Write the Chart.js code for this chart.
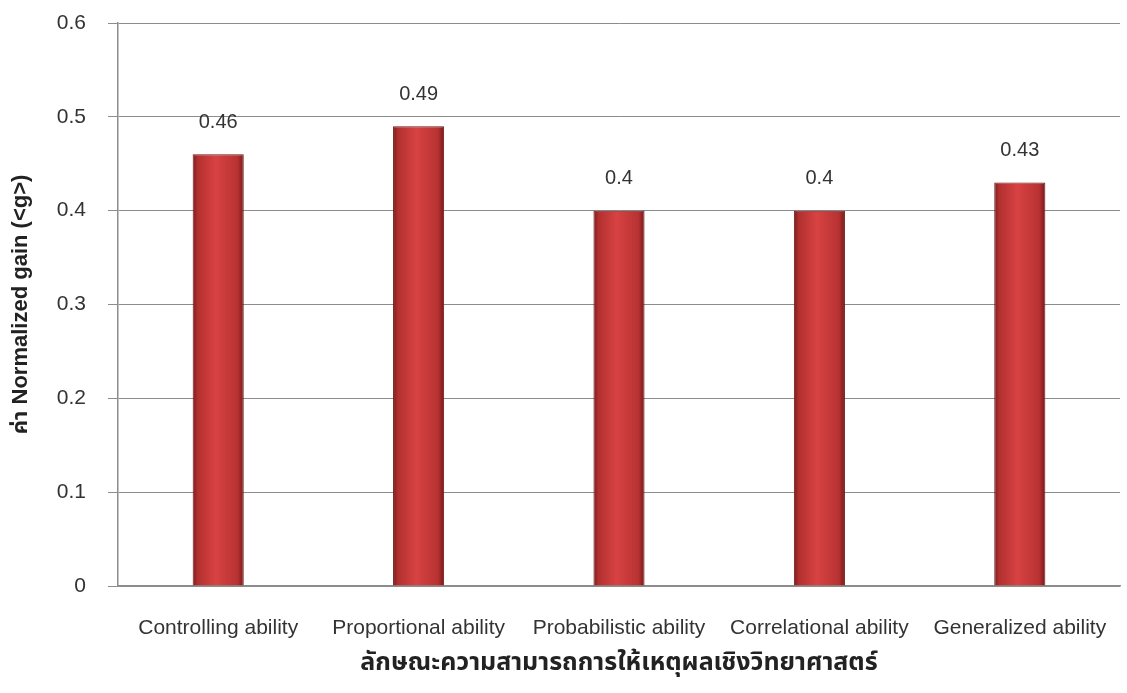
<!DOCTYPE html>
<html>
<head>
<meta charset="utf-8">
<script src="https://cdn.jsdelivr.net/npm/chart.js@4.4.1/dist/chart.umd.min.js"></script>
<style>
  html, body { margin: 0; padding: 0; background: #fff; }
  #wrap { width: 1127px; height: 693px; position: relative; }
</style>
</head>
<body>
<div id="wrap"><canvas id="chart"></canvas></div>
<script>
const categories = ['Controlling ability', 'Proportional ability', 'Probabilistic ability', 'Correlational ability', 'Generalized ability']
const gains = [0.46, 0.49, 0.4, 0.4, 0.43]
const valueLabels = ['0.46', '0.49', '0.4', '0.4', '0.43']
const yTicks = [0, 0.1, 0.2, 0.3, 0.4, 0.5, 0.6]

const BAR_PCT = 0.255

Chart.defaults.font.family = '"Liberation Sans", Arial, sans-serif'
Chart.defaults.color = '#3a3a3a'

// shaded bar: dark edges, lighter middle
function barFill(ctx) {
  const chart = ctx.chart
  const x = chart.scales.x
  if (!x || ctx.dataIndex === undefined) return '#c83535'
  const cx = x.getPixelForValue(ctx.dataIndex)
  const w = (x.width / categories.length) * BAR_PCT
  if (!isFinite(cx) || !isFinite(w) || w <= 0) return '#c83535'
  const g = chart.ctx.createLinearGradient(cx - w / 2, 0, cx + w / 2, 0)
  g.addColorStop(0, '#7e1b1b')
  g.addColorStop(0.1, '#b23030')
  g.addColorStop(0.45, '#d84242')
  g.addColorStop(0.88, '#b83232')
  g.addColorStop(1, '#761818')
  return g
}

const valueLabelPlugin = {
  id: 'valueLabels',
  afterDatasetsDraw(chart) {
    const c = chart.ctx
    const meta = chart.getDatasetMeta(0)
    c.save()
    c.font = '20px "Liberation Sans", Arial, sans-serif'
    c.fillStyle = '#333'
    c.textAlign = 'center'
    c.textBaseline = 'middle'
    meta.data.forEach((bar, i) => {
      c.fillText(valueLabels[i], bar.x, bar.y - 32)
    })
    c.restore()
  }
}

new Chart(document.getElementById('chart'), {
  type: 'bar',
  data: {
    labels: categories,
    datasets: [{
      data: gains,
      backgroundColor: barFill,
      borderColor: '#6e1818',
      borderWidth: 1,
      barPercentage: BAR_PCT,
      categoryPercentage: 1
    }]
  },
  options: {
    responsive: true,
    maintainAspectRatio: false,
    animation: false,
    layout: { padding: { left: 0, right: 7, top: 23, bottom: 0 } },
    plugins: {
      legend: { display: false },
      tooltip: { enabled: false }
    },
    scales: {
      x: {
        afterFit: (axis) => {
          axis.height = 107
          axis.paddingLeft = 0
          axis.paddingRight = 0
        },
        grid: { display: false, drawTicks: false },
        border: { color: '#8c8c8c', width: 1.5 },
        ticks: {
          padding: 30,
          maxRotation: 0,
          autoSkip: false,
          font: { size: 21 },
          color: '#333'
        },
        title: {
          display: true,
          text: 'ลักษณะความสามารถการให้เหตุผลเชิงวิทยาศาสตร์',
          font: { size: 25, weight: 'bold', family: '"Noto Sans Thai", "Noto Sans", "DejaVu Sans", sans-serif' },
          color: '#222',
          padding: { top: 0, bottom: 13 }
        }
      },
      y: {
        min: 0,
        max: 0.6,
        afterFit: (axis) => {
          axis.width = 118
          axis.paddingTop = 0
          axis.paddingBottom = 0
        },
        afterBuildTicks: (axis) => { axis.ticks = yTicks.map(v => ({ value: v })) },
        grid: { color: '#8c8c8c', lineWidth: 1, tickLength: 10 },
        border: { color: '#8c8c8c', width: 1.5 },
        ticks: {
          padding: 22,
          font: { size: 21 },
          color: '#333',
          callback: (v) => String(v)
        },
        title: {
          display: true,
          text: 'ค่า Normalized gain (<g>)',
          font: { size: 22, weight: 'bold', family: '"Liberation Sans", "Noto Sans Thai", Arial, sans-serif' },
          color: '#222',
          padding: { top: 8 }
        }
      }
    }
  },
  plugins: [valueLabelPlugin]
})
</script>
</body>
</html>
